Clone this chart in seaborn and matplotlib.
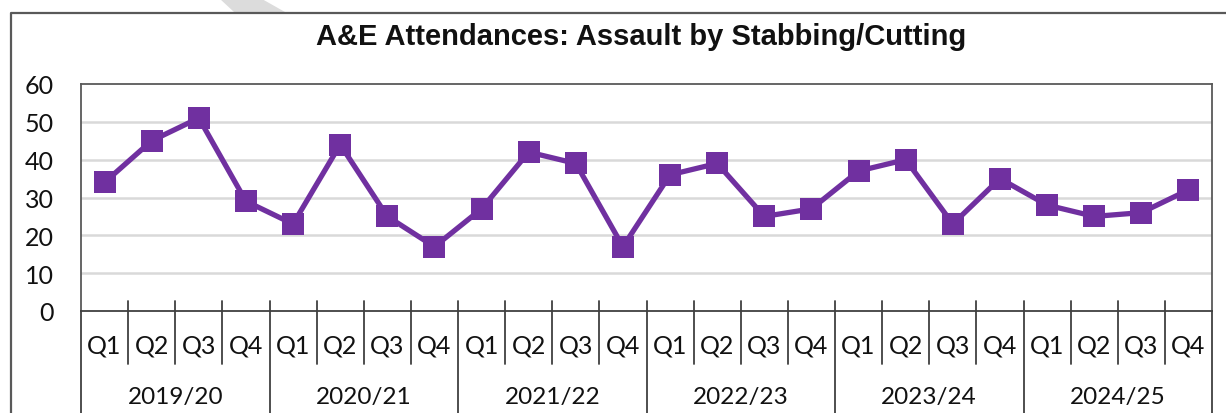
import numpy as np
import pandas as pd
import matplotlib
matplotlib.use("Agg")
import matplotlib.pyplot as plt
import matplotlib.transforms as mtransforms
from matplotlib.lines import Line2D
from matplotlib.patches import Polygon
import seaborn as sns

# Quarterly A&E attendances for assault by stabbing/cutting
years = ["2019/20", "2020/21", "2021/22", "2022/23", "2023/24", "2024/25"]
quarters = ["Q1", "Q2", "Q3", "Q4"]
attendances = [34, 45, 51, 29,
               23, 44, 25, 17,
               27, 42, 39, 17,
               36, 39, 25, 27,
               37, 40, 23, 35,
               28, 25, 26, 32]
y_ticks = [0, 10, 20, 30, 40, 50, 60]

periods = [f"{y} {q}" for y in years for q in quarters]
df = pd.DataFrame({"period": periods, "attendances": attendances})

sns.set_theme(style="white")
plt.rcParams["font.family"] = ["Lato", "DejaVu Sans"]

W, H = 1226, 414
fig = plt.figure(figsize=(W / 100, H / 100), dpi=100)
ax_left, ax_right, ax_bottom, ax_top = 81, 1212, 312, 85
ax = fig.add_axes([ax_left / W, (H - ax_bottom) / H,
                   (ax_right - ax_left) / W, (ax_bottom - ax_top) / H])

purple = "#7030a0"
frame_col = "#595959"
text_col = "#111111"

sns.lineplot(data=df, x="period", y="attendances", ax=ax, color=purple,
             linewidth=3.8, marker="s", markersize=16, markeredgewidth=0,
             sort=False, zorder=4)

n = len(periods)
ax.set_xlim(-0.5, n - 0.5)
ax.set_ylim(0, 60)
ax.set_yticks(y_ticks)
ax.set_yticklabels([str(v) for v in y_ticks], fontsize=18, color=text_col)
ax.tick_params(axis="y", length=0, pad=19.5)
ax.set_xticks([])
ax.set_xlabel("")
ax.set_ylabel("")
for v in y_ticks[1:-1]:
    ax.axhline(v, color="#d9d9d9", linewidth=1.8, zorder=1)
for s in ax.spines.values():
    s.set_color(frame_col)
    s.set_linewidth(1.3)
ax.spines["bottom"].set_color("#404040")

# two-level category axis: quarter labels, year labels and separators
px = (ax_bottom - ax_top)  # axes height in pixels
trans = mtransforms.blended_transform_factory(ax.transData, ax.transAxes)
q_label_y = -(346 - ax_bottom) / px
yr_label_y = -(398 - ax_bottom) / px
q_sep_top = 10 / px
q_sep_bot = -(365 - ax_bottom) / px
yr_sep_bot = -(H - ax_bottom) / px

for i, p in enumerate(periods):
    ax.text(i, q_label_y, quarters[i % 4], transform=trans, ha="center",
            va="center", fontsize=18, color=text_col)
for j, yr in enumerate(years):
    ax.text(j * 4 + 1.5, yr_label_y, yr, transform=trans, ha="center",
            va="center", fontsize=17.5, color=text_col)
for b in range(0, n + 1):
    xb = b - 0.5
    if b % 4 == 0:
        bot = yr_sep_bot
        top = q_sep_top if 0 < b < n else 0
    else:
        bot = q_sep_bot
        top = q_sep_top
    ax.add_line(Line2D([xb, xb], [bot, top], transform=trans, color="#404040",
                       linewidth=1.3, clip_on=False, zorder=5))

# title
fig.text(641 / W, 1 - 37 / H, "A&E Attendances: Assault by Stabbing/Cutting",
         ha="center", va="center", fontsize=21, fontweight="bold",
         family=["Liberation Sans", "DejaVu Sans"], color=text_col)

# outer chart frame
fig.add_artist(Line2D([11 / W, 11 / W, 1.0], [0.0, 1 - 14 / H, 1 - 14 / H],
                      transform=fig.transFigure, color=frame_col,
                      linewidth=1.6))

# light grey band at the top edge
band = [(220, 0), (262, 0), (285, 13), (234, 13)]
fig.add_artist(Polygon([(x / W, 1 - y / H) for x, y in band], closed=True,
                       transform=fig.transFigure, facecolor="#dcdcdc",
                       edgecolor="none", zorder=0))

fig.savefig("out.png", dpi=100)
